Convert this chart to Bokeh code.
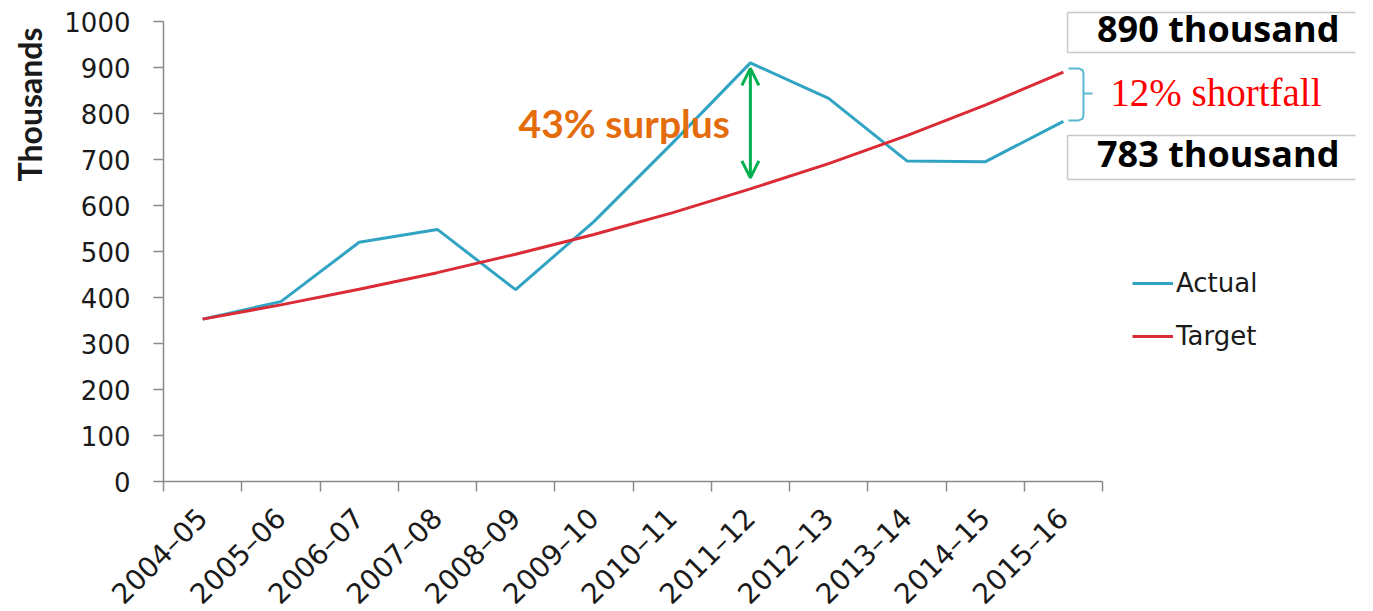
import math
from bokeh.plotting import figure
from bokeh.models import (Range1d, FixedTicker, Legend, LegendItem,
                          Arrow, OpenHead)
from bokeh.core.properties import value
from bokeh.embed import file_html
from bokeh.resources import INLINE

# ---------------- data ----------------
years = ["2004–05", "2005–06", "2006–07", "2007–08", "2008–09", "2009–10",
         "2010–11", "2011–12", "2012–13", "2013–14", "2014–15", "2015–16"]
actual = [353, 391, 520, 548, 417, 565, 735, 910, 833, 697, 695, 783]
target = [353, 384, 418, 454, 494, 537, 584, 636, 691, 752, 818, 890]
y_ticks = [0, 100, 200, 300, 400, 500, 600, 700, 800, 900, 1000]
series_names = ["Actual", "Target"]

# ---------------- styles ----------------
BLUE = "#31a4c3"
RED = "#da2b37"
GREEN = "#00b050"
ORANGE = "#e46c0a"
AXIS = "#8a8a8a"
TXT = "#1a1a1a"
SANS = "DejaVu Sans"

n = len(years)
centers = [i + 0.5 for i in range(n)]
boundaries = list(range(n + 1))

W, H = 1373, 611
AX_X, AX_Y = 163, 481        # canvas position of the axes origin
px_per_x = 939 / n           # pixels per category
px_per_y = 460 / 1000        # pixels per thousand

p = figure(width=W, height=H, output_backend="svg", toolbar_location=None,
           x_range=Range1d(-AX_X / px_per_x, (W - AX_X) / px_per_x),
           y_range=Range1d(-(H - AX_Y) / px_per_y, AX_Y / px_per_y),
           min_border=0, min_border_left=0, min_border_right=0,
           min_border_top=0, min_border_bottom=0)
p.outline_line_color = None
p.grid.visible = False
p.background_fill_color = "white"
p.border_fill_color = "white"

# x axis: ticks at category boundaries, labels at centers
xa = p.xaxis[0]
xa.fixed_location = 0
xa.bounds = (0, n)
xa.ticker = FixedTicker(ticks=centers, minor_ticks=boundaries)
xa.major_label_overrides = {c: y for c, y in zip(centers, years)}
xa.major_label_orientation = math.pi / 4
xa.major_label_standoff = 22
xa.major_label_text_font = SANS
xa.major_label_text_font_size = "28px"
xa.major_label_text_color = TXT
xa.axis_line_color = AXIS
xa.axis_line_width = 1.5
xa.major_tick_out = 0
xa.major_tick_in = 0
xa.minor_tick_out = 10
xa.minor_tick_in = 0
xa.minor_tick_line_color = AXIS
xa.minor_tick_line_width = 1.5

# y axis
ya = p.yaxis[0]
ya.fixed_location = 0
ya.bounds = (0, 1000)
ya.ticker = FixedTicker(ticks=y_ticks)
ya.axis_line_color = AXIS
ya.axis_line_width = 1.5
ya.major_tick_out = 10
ya.major_tick_in = 0
ya.major_tick_line_color = AXIS
ya.major_tick_line_width = 1.5
ya.minor_tick_out = 0
ya.minor_tick_in = 0
ya.major_label_standoff = 23
ya.major_label_text_font = SANS
ya.major_label_text_font_size = "26px"
ya.major_label_text_color = TXT

# lines
r_actual = p.line(centers, actual, line_color=BLUE, line_width=3)
r_target = p.line(centers, target, line_color=RED, line_width=3)

legend = Legend(items=[LegendItem(label=series_names[0], renderers=[r_actual]),
                       LegendItem(label=series_names[1], renderers=[r_target])],
                location=(1132, 260), glyph_width=41, glyph_height=30,
                label_height=30, spacing=23, padding=0, margin=0,
                label_standoff=3, border_line_color=None,
                background_fill_alpha=0, label_text_font=SANS,
                label_text_font_size="26px", label_text_color=TXT)
p.add_layout(legend)

# y-axis title
p.text(x=[-1.713], y=[819.6], text=["Thousands"], angle=math.pi / 2,
       text_align="center", text_baseline="alphabetic",
       text_font=value("Lato"), text_font_style="bold",
       text_font_size="32px", text_color=TXT)

# surplus arrow and label
k = years.index("2011–12")
p.add_layout(Arrow(x_start=centers[k], y_start=target[k] + 24,
                   x_end=centers[k], y_end=actual[k] - 12,
                   start=OpenHead(size=17, line_color=GREEN, line_width=3),
                   end=OpenHead(size=17, line_color=GREEN, line_width=3),
                   line_color=GREEN, line_width=3))
p.text(x=[4.537], y=[780.4], text=["43% surplus"], text_align="left",
       text_baseline="alphabetic", text_font=value("Lato"),
       text_font_style="bold", text_font_size="39px", text_color=ORANGE)

# right-hand value boxes
bx0, bx1 = 11.553, 15.233
boxes = [(1019.6, 932.6), (752.2, 656.5)]
for top, bot in boxes:
    p.segment(x0=[bx0, bx0, bx0], y0=[top, bot, top],
              x1=[bx1, bx1, bx0], y1=[top, bot, bot],
              line_color="#c8c8c8", line_width=1.5)
p.text(x=[11.93, 11.93], y=[984.7, 713.0],
       text=[f"{target[-1]} thousand", f"{actual[-1]} thousand"],
       text_align="left", text_baseline="alphabetic",
       text_font=value("Open Sans"), text_font_style="bold",
       text_font_size="36px", text_color="black")

# bracket
bl, bv, bn = 11.565, 11.757, 11.872
btop, bbot, bmid = 898.0, 785.0, 843.5
p.multi_line(xs=[[bl, bv - 0.06, bv - 0.01, bv, bv, bv - 0.01, bv - 0.06, bl],
                 [bv, bn]],
             ys=[[btop, btop, btop - 4, btop - 11, bbot + 11, bbot + 4, bbot, bbot],
                 [bmid, bmid]],
             line_color="#5bb8d2", line_width=2)
p.text(x=[12.10], y=[846.5], text=["12% shortfall"], text_align="left",
       text_baseline="alphabetic", text_font=value("Liberation Serif"),
       text_font_size="39px", text_color="#ff0000")

open("out.html", "w").write(file_html(p, INLINE))
